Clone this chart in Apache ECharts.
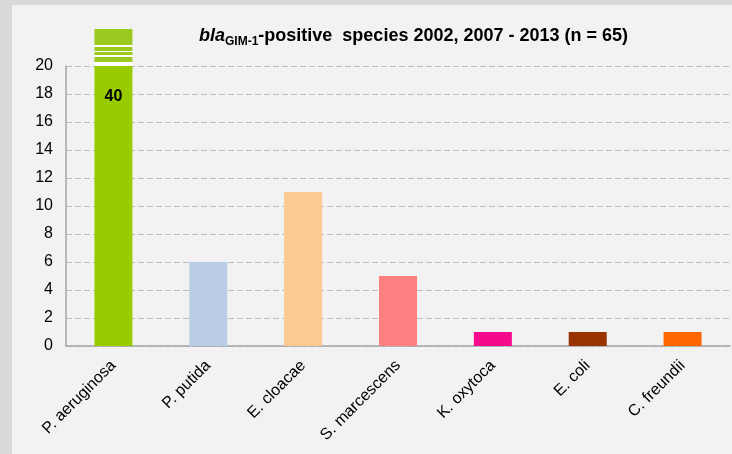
<!DOCTYPE html>
<html>
<head>
<meta charset="utf-8">
<script src="https://cdn.jsdelivr.net/npm/echarts@6/dist/echarts.min.js"></script>
<style>
  html, body { margin: 0; padding: 0; background: #d9d9d9; }
  #chart { position: absolute; left: 12px; top: 5px; width: 720px; height: 449px; background: #f2f2f2; }
</style>
</head>
<body>
<div id="chart"></div>
<script>
// species counts (n = 65), first one runs off the axis
var species = ['P. aeruginosa', 'P. putida', 'E. cloacae', 'S. marcescens', 'K. oxytoca', 'E. coli', 'C. freundii'];
var counts = [40, 6, 11, 5, 1, 1, 1];
var barColors = ['#99cc00', '#b9cde5', '#fcc894', '#ff8080', '#f50a8c', '#993300', '#ff6600'];
var yTicks = [0, 2, 4, 6, 8, 10, 12, 14, 16, 18, 20];
var yMax = 20;

var chart = echarts.init(document.getElementById('chart'));

// stub on top of the broken bar, with white stripes
var stubColor = {
  type: 'linear', x: 0, y: 0, x2: 0, y2: 1,
  colorStops: [
    { offset: 0, color: '#9bc91f' }, { offset: 0.43, color: '#9bc91f' },
    { offset: 0.43, color: '#ffffff' }, { offset: 0.48, color: '#ffffff' },
    { offset: 0.48, color: '#9bc91f' }, { offset: 0.585, color: '#9bc91f' },
    { offset: 0.585, color: '#ffffff' }, { offset: 0.63, color: '#ffffff' },
    { offset: 0.63, color: '#9bc91f' }, { offset: 0.715, color: '#9bc91f' },
    { offset: 0.715, color: '#ffffff' }, { offset: 0.76, color: '#ffffff' },
    { offset: 0.76, color: '#9bc91f' }, { offset: 0.88, color: '#9bc91f' },
    { offset: 0.88, color: '#ffffff' }, { offset: 1, color: '#ffffff' }
  ]
};

var mainData = counts.map(function (v, i) {
  return {
    value: Math.min(v, yMax),
    itemStyle: { color: barColors[i] },
    label: { show: v > yMax }
  };
});
var stubData = counts.map(function (v) {
  return v > yMax ? { value: 1, itemStyle: { color: stubColor } } : null;
});

chart.setOption({
  animation: false,
  title: {
    left: 182,
    top: 15,
    text: '{i|bla}{s|GIM-1}{b|-positive  species 2002, 2007 - 2013 (n = 65)}',
    textStyle: {
      rich: {
        i: { fontFamily: 'Liberation Sans', fontSize: 18, fontWeight: 'bold', fontStyle: 'italic', color: '#000', lineHeight: 20, verticalAlign: 'bottom' },
        s: { fontFamily: 'Liberation Sans', fontSize: 12, fontWeight: 'bold', color: '#000', lineHeight: 20, verticalAlign: 'bottom', padding: [0, 0, -3, 0] },
        b: { fontFamily: 'Liberation Sans', fontSize: 18, fontWeight: 'bold', color: '#000', lineHeight: 20, verticalAlign: 'bottom' }
      }
    }
  },
  grid: [
    { left: 54, right: 2, top: 61, bottom: 108 },
    { left: 54, right: 2, top: 24, height: 37 }
  ],
  xAxis: [{
    type: 'category',
    data: species,
    gridIndex: 0,
    axisLine: { lineStyle: { color: '#a6a6a6', width: 1.5 } },
    axisTick: { show: false },
    axisLabel: {
      rotate: 45, margin: 17, interval: 0,
      fontFamily: 'Liberation Sans', fontSize: 16, color: '#000'
    }
  }, {
    type: 'category',
    data: species,
    gridIndex: 1,
    show: false
  }],
  yAxis: [{
    type: 'value',
    gridIndex: 0,
    min: 0, max: yMax, interval: yTicks[1] - yTicks[0],
    axisLine: { show: true, lineStyle: { color: '#a6a6a6', width: 1.5 } },
    axisTick: { show: false },
    axisLabel: { margin: 13, fontFamily: 'Liberation Sans', fontSize: 16, color: '#000' },
    splitLine: { lineStyle: { color: '#bfbfbf', type: [6, 3], width: 1.2 } }
  }, {
    type: 'value',
    gridIndex: 1,
    min: 0, max: 1,
    show: false,
    splitLine: { show: false }
  }],
  series: [{
    type: 'bar',
    xAxisIndex: 0, yAxisIndex: 0,
    barWidth: 38,
    data: mainData,
    label: {
      position: 'insideTop',
      distance: 23,
      fontFamily: 'Liberation Sans', fontSize: 16, fontWeight: 'bold', color: '#000',
      formatter: function (p) { return counts[p.dataIndex]; }
    }
  }, {
    type: 'bar',
    xAxisIndex: 1, yAxisIndex: 1,
    barWidth: 38,
    data: stubData
  }]
});
</script>
</body>
</html>
